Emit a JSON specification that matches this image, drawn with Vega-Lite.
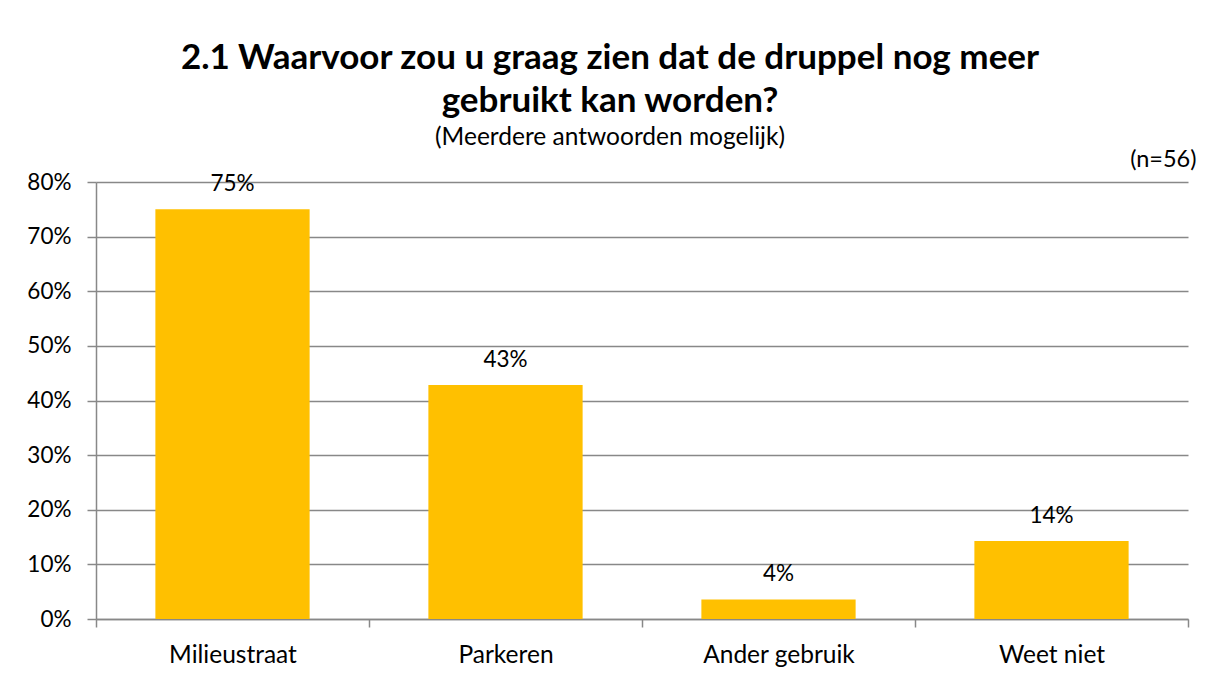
{
  "$schema": "https://vega.github.io/schema/vega-lite/v6.json",
  "width": 1092,
  "height": 437,
  "autosize": {"type": "none"},
  "padding": {"left": 96, "top": 182, "right": 25, "bottom": 62},
  "background": "white",
  "title": {
    "text": ["2.1 Waarvoor zou u graag zien dat de druppel nog meer", "gebruikt kan worden?"],
    "subtitle": "(Meerdere antwoorden mogelijk)",
    "anchor": "middle",
    "dx": -32,
    "font": "Lato",
    "fontSize": 35,
    "fontWeight": "bold",
    "lineHeight": 43,
    "color": "black",
    "subtitleFont": "Lato",
    "subtitleFontSize": 24.5,
    "subtitleColor": "black",
    "subtitlePadding": 7,
    "offset": -2
  },
  "data": {
    "values": [
      {"categorie": "Milieustraat", "pct": 0.75},
      {"categorie": "Parkeren", "pct": 0.4286},
      {"categorie": "Ander gebruik", "pct": 0.0357},
      {"categorie": "Weet niet", "pct": 0.1429}
    ]
  },
  "encoding": {
    "x": {
      "field": "categorie",
      "type": "nominal",
      "sort": null,
      "scale": {"paddingInner": 0, "paddingOuter": 0},
      "axis": {
        "title": null,
        "labelAngle": 0,
        "labelFont": "Lato",
        "labelFontSize": 24.5,
        "labelColor": "black",
        "labelPadding": 16,
        "tickBand": "extent",
        "tickSize": 8,
        "tickColor": "#888888",
        "tickWidth": 1.5,
        "domainColor": "#888888",
        "domainWidth": 1.5,
        "grid": false
      }
    },
    "y": {
      "field": "pct",
      "type": "quantitative",
      "scale": {"domain": [0, 0.8], "nice": false}
    }
  },
  "layer": [
    {
      "mark": {"type": "bar", "color": "#FFC000", "width": {"band": 0.565}},
      "encoding": {
        "y": {
          "field": "pct",
          "type": "quantitative",
          "axis": {
            "title": null,
            "format": ".0%",
            "values": [0, 0.1, 0.2, 0.3, 0.4, 0.5, 0.6, 0.7, 0.8],
            "labelFont": "Lato",
            "labelFontSize": 22.5,
            "labelColor": "black",
            "labelPadding": 16,
            "tickSize": 9,
            "tickColor": "#888888",
            "tickWidth": 1.5,
            "domainColor": "#888888",
            "domainWidth": 1.5,
            "grid": true,
            "gridColor": "#888888",
            "gridWidth": 1.5
          }
        }
      }
    },
    {
      "mark": {"type": "text", "font": "Lato", "fontSize": 22.5, "color": "black", "baseline": "alphabetic", "dy": -18},
      "encoding": {
        "text": {"field": "pct", "type": "quantitative", "format": ".0%"},
        "y": {
          "field": "pct",
          "type": "quantitative",
          "axis": {
            "orient": "right",
            "title": "(n=56)",
            "titleAngle": 0,
            "titleFont": "Lato",
            "titleFontSize": 23.5,
            "titleFontWeight": "normal",
            "titleColor": "black",
            "titleAlign": "right",
            "titleBaseline": "alphabetic",
            "titleX": 8,
            "titleY": -16,
            "labels": false,
            "ticks": false,
            "domain": false,
            "grid": false
          }
        }
      }
    }
  ],
  "resolve": {"axis": {"y": "independent"}},
  "config": {"view": {"stroke": null}}
}
